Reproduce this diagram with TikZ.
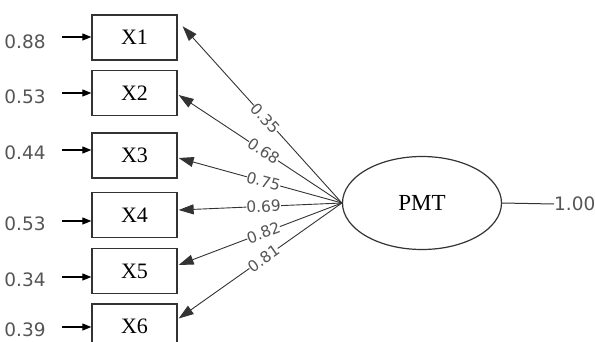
\documentclass[tikz,border=0pt]{standalone}
\usepackage{fontspec}
\setmainfont{Liberation Serif}
\newfontfamily\numfont{DejaVu Sans}
\usetikzlibrary{shapes.geometric,arrows.meta}
\definecolor{numgray}{HTML}{555555}
\definecolor{linegray}{HTML}{333333}
\tikzset{
  obsbox/.style={draw=linegray,line width=1.3pt,minimum width=85pt,minimum height=45pt,inner sep=0pt,font=\fontsize{22}{22}\selectfont},
  latent/.style={draw=linegray,ellipse,line width=1.2pt,minimum width=159pt,minimum height=93pt,inner sep=0pt,font=\fontsize{23}{23}\selectfont},
  errlabel/.style={text=numgray,font=\numfont\fontsize{18.5}{18.5}\selectfont,inner sep=0pt},
  errarrow/.style={line width=1.1pt,-{Triangle[length=9pt,width=7pt]}},
  loadarrow/.style={line width=0.9pt,draw=linegray,-{Triangle[length=15pt,width=10pt]}},
  loadlabel/.style={fill=white,text=numgray,font=\numfont\fontsize{15.5}{15.5}\selectfont,inner sep=0pt,sloped},
}
\begin{document}
\begin{tikzpicture}[x=1pt,y=-1pt]
\useasboundingbox (0,0) rectangle (595,341);
\clip (0,0) rectangle (595,341);
% observed variables
\node[obsbox] (X1) at (134.5,37.5) {X1};
\node[obsbox] (X2) at (134.5,93) {X2};
\node[obsbox] (X3) at (134.5,155.5) {X3};
\node[obsbox] (X4) at (134.5,215) {X4};
\node[obsbox] (X5) at (134.5,271) {X5};
\node[obsbox] (X6) at (134.5,326.5) {X6};
% error values
\node[errlabel] (e1) at (25,42) {0.88};
\node[errlabel] (e2) at (25,97) {0.53};
\node[errlabel] (e3) at (25,153) {0.44};
\node[errlabel] (e4) at (25,224) {0.53};
\node[errlabel] (e5) at (25,280) {0.34};
\node[errlabel] (e6) at (25,330) {0.39};
\draw[errarrow] (62,37) coordinate (a1) -- (a1 -| X1.west);
\draw[errarrow] (62,93) coordinate (a2) -- (a2 -| X2.west);
\draw[errarrow] (62,150) coordinate (a3) -- (a3 -| X3.west);
\draw[errarrow] (62,221) coordinate (a4) -- (a4 -| X4.west);
\draw[errarrow] (62,277) coordinate (a5) -- (a5 -| X5.west);
\draw[errarrow] (62,327) coordinate (a6) -- (a6 -| X6.west);
% latent
\node[latent] (P) at (422,203) {PMT};
\node[errlabel,anchor=west] (r) at (554,204) {1.00};
\draw[line width=1pt,draw=linegray] (P.east) -- (r.west);
% loadings
\draw[loadarrow] (P.west) -- node[loadlabel,pos=0.48] {0.35} ([shift={(5,12)}]X1.north east);
\draw[loadarrow] (P.west) -- node[loadlabel,pos=0.48] {0.68} ([shift={(1,2)}]X2.east);
\draw[loadarrow] (P.west) -- node[loadlabel,pos=0.48] {0.75} ([shift={(1,2.5)}]X3.east);
\draw[loadarrow] (P.west) -- node[loadlabel,pos=0.48] {0.69} ([shift={(1,-5)}]X4.east);
\draw[loadarrow] (P.west) -- node[loadlabel,pos=0.48] {0.82} ([shift={(1,-6)}]X5.east);
\draw[loadarrow] (P.west) -- node[loadlabel,pos=0.48] {0.81} ([shift={(1,-8)}]X6.east);
\end{tikzpicture}
\end{document}
